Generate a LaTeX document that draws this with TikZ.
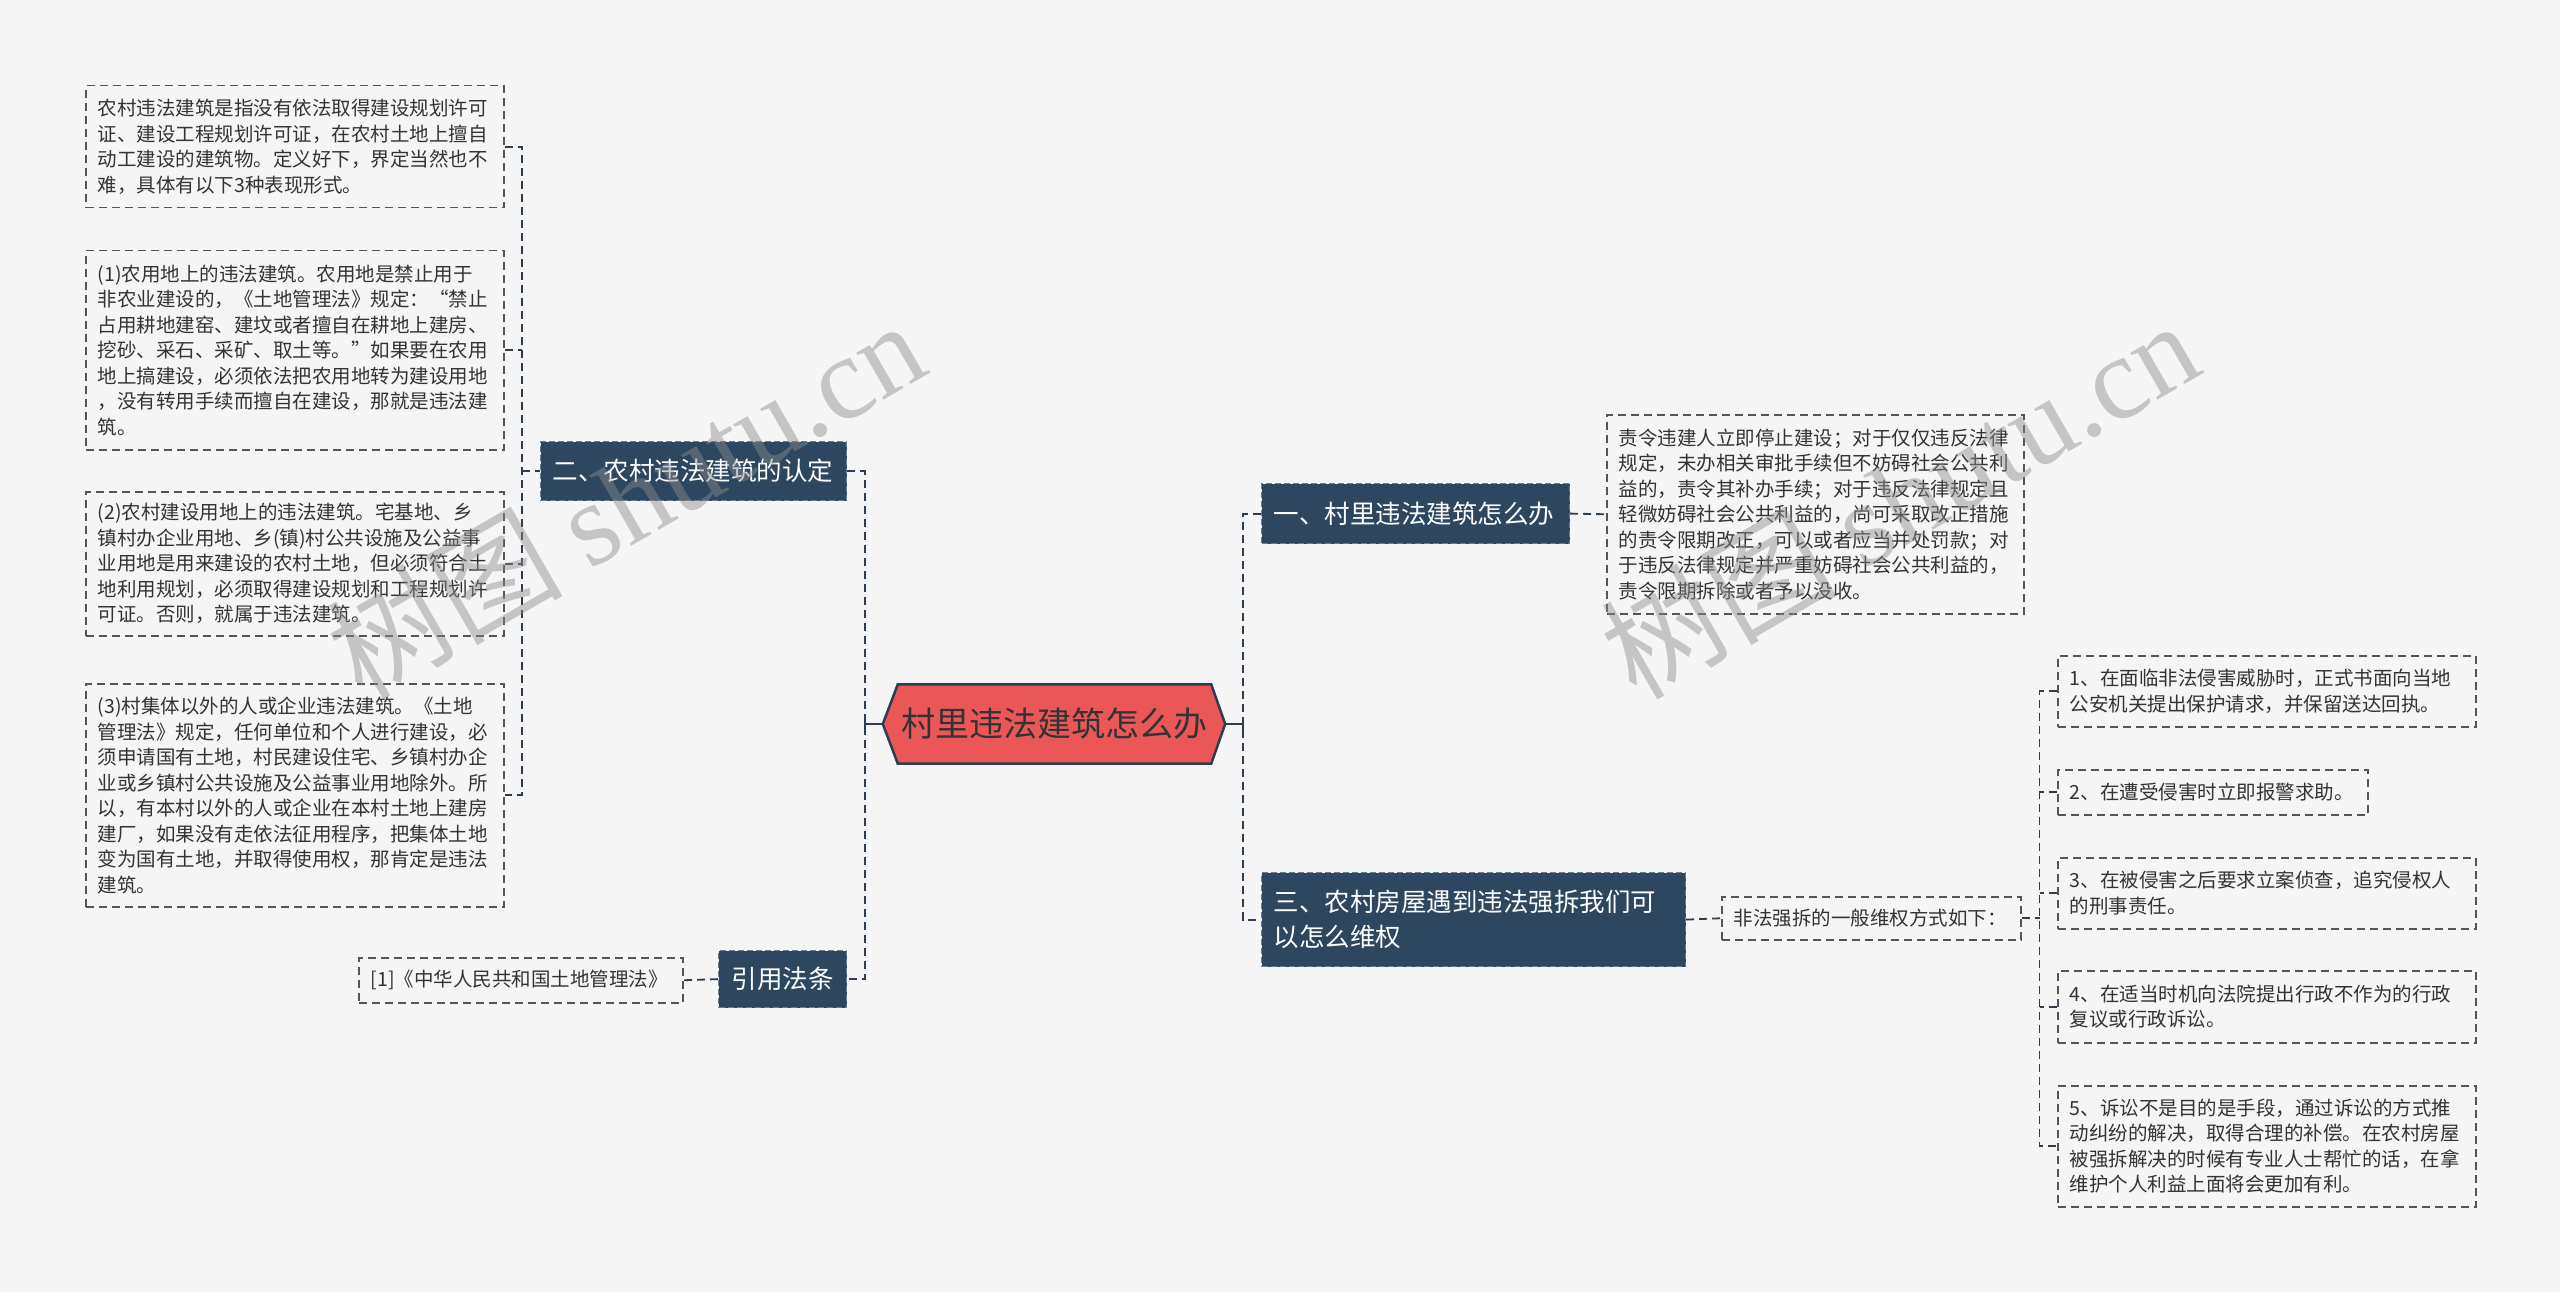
\documentclass[tikz,border=0pt]{standalone}
\usepackage{fontspec}
\setmainfont{Noto Sans CJK SC}
\newfontfamily\wmserif{Liberation Serif}
\usetikzlibrary{backgrounds,calc}

\definecolor{bg}{HTML}{F5F5F5}
\definecolor{dark}{HTML}{2E4760}
\definecolor{darkedge}{HTML}{6C7D8E}
\definecolor{lineclr}{HTML}{2C3E50}
\definecolor{boxline}{HTML}{555555}
\definecolor{txtclr}{HTML}{333333}
\definecolor{hubred}{HTML}{EB5757}

\tikzset{
  txtbox/.style={draw=boxline, line width=1.5pt, dash pattern=on 8pt off 5pt,
    text=txtclr, font=\fontsize{19.5}{25.5}\selectfont, align=left,
    inner xsep=12pt, inner ysep=0pt, anchor=north west},
  topic/.style={fill=dark, draw=darkedge, line width=1.2pt, dash pattern=on 6pt off 3pt,
    text=white, font=\fontsize{25.5}{35}\selectfont, align=left,
    inner xsep=12pt, inner ysep=0pt, anchor=north west},
  conn/.style={draw=lineclr, line width=1.8pt, dash pattern=on 8pt off 5pt},
  solidconn/.style={draw=lineclr, line width=2.2pt},
  wmark/.style={rotate=30, anchor=base west, text=black!45, opacity=0.45,
    font=\fontsize{118}{118}\selectfont, inner sep=0pt}
}

\begin{document}
\begin{tikzpicture}[x=1pt, y=-1pt]
\useasboundingbox (0,0) rectangle (2560,1292);
\begin{scope}[on background layer]
  \fill[bg] (0,0) rectangle (2560,1292);
\end{scope}

% ---------- hub ----------
\node[inner sep=0pt, minimum width=342pt, minimum height=79pt, text=txtclr,
      font=\fontsize{34}{40}\selectfont] (hub) at (1054,724) {村里违法建筑怎么办};
\begin{scope}[on background layer]
  \filldraw[fill=hubred, draw=lineclr, line width=2.5pt, line join=miter]
    (hub.west) -- ([xshift=15pt]hub.north west) -- ([xshift=-14pt]hub.north east)
    -- (hub.east) -- ([xshift=-14pt]hub.south east) -- ([xshift=15pt]hub.south west) -- cycle;
\end{scope}

% ---------- left side ----------
\node[topic, text width=282pt, minimum height=59pt] (n2) at (540,441) {二、农村违法建筑的认定};
\node[topic, align=center, minimum width=128pt, minimum height=57pt] (law) at (718,950) {引用法条};

\node[txtbox, text width=394pt, minimum height=122pt] (l0) at (85,85)
{农村违法建筑是指没有依法取得建设规划许可\\证、建设工程规划许可证，在农村土地上擅自\\动工建设的建筑物。定义好下，界定当然也不\\难，具体有以下3种表现形式。};

\node[txtbox, text width=394pt, minimum height=199pt] (l1) at (85,250)
{(1)农用地上的违法建筑。农用地是禁止用于\\非农业建设的，《土地管理法》规定：“禁止\\占用耕地建窑、建坟或者擅自在耕地上建房、\\挖砂、采石、采矿、取土等。”如果要在农用\\地上搞建设，必须依法把农用地转为建设用地\\，没有转用手续而擅自在建设，那就是违法建\\筑。};

\node[txtbox, text width=394pt, minimum height=144pt] (l2) at (85,491)
{(2)农村建设用地上的违法建筑。宅基地、乡\\镇村办企业用地、乡(镇)村公共设施及公益事\\业用地是用来建设的农村土地，但必须符合土\\地利用规划，必须取得建设规划和工程规划许\\可证。否则，就属于违法建筑。};

\node[txtbox, text width=394pt, minimum height=223pt] (l3) at (85,683)
{(3)村集体以外的人或企业违法建筑。《土地\\管理法》规定，任何单位和个人进行建设，必\\须申请国有土地，村民建设住宅、乡镇村办企\\业或乡镇村公共设施及公益事业用地除外。所\\以，有本村以外的人或企业在本村土地上建房\\建厂，如果没有走依法征用程序，把集体土地\\变为国有土地，并取得使用权，那肯定是违法\\建筑。};

\node[txtbox, text width=300pt, minimum height=45pt] (ref) at (358,957)
{[1]《中华人民共和国土地管理法》};

% ---------- right side ----------
\node[topic, text width=284pt, minimum height=60pt] (n1) at (1261,483) {一、村里违法建筑怎么办};
\node[topic, text width=400pt, minimum height=94pt] (n3) at (1261,872)
{三、农村房屋遇到违法强拆我们可\\以怎么维权};

\node[txtbox, text width=393pt, minimum height=199pt] (r1) at (1606,414)
{责令违建人立即停止建设；对于仅仅违反法律\\规定，未办相关审批手续但不妨碍社会公共利\\益的，责令其补办手续；对于违反法律规定且\\轻微妨碍社会公共利益的，尚可采取改正措施\\的责令限期改正，可以或者应当并处罚款；对\\于违反法律规定并严重妨碍社会公共利益的，\\责令限期拆除或者予以没收。};

\node[txtbox, text width=275pt, minimum height=43pt] (s) at (1721,896)
{非法强拆的一般维权方式如下：};

\node[txtbox, text width=394pt, minimum height=71pt] (c1) at (2057,655)
{1、在面临非法侵害威胁时，正式书面向当地\\公安机关提出保护请求，并保留送达回执。};
\node[txtbox, text width=286pt, minimum height=45pt] (c2) at (2057,769)
{2、在遭受侵害时立即报警求助。};
\node[txtbox, text width=394pt, minimum height=71pt] (c3) at (2057,857)
{3、在被侵害之后要求立案侦查，追究侵权人\\的刑事责任。};
\node[txtbox, text width=394pt, minimum height=72pt] (c4) at (2057,970)
{4、在适当时机向法院提出行政不作为的行政\\复议或行政诉讼。};
\node[txtbox, text width=394pt, minimum height=121pt] (c5) at (2057,1085)
{5、诉讼不是目的是手段，通过诉讼的方式推\\动纠纷的解决，取得合理的补偿。在农村房屋\\被强拆解决的时候有专业人士帮忙的话，在拿\\维护个人利益上面将会更加有利。};

% ---------- connectors ----------
% hub to left topics
\coordinate (hl) at ($(hub.west)+(-18,0)$);
\draw[solidconn] (hub.west) -- (hl);
\draw[solidconn] ($(hl)+(0,-7)$) -- ($(hl)+(0,7)$);
\draw[conn] (n2.east) -- (n2.east -| hl) -- (law.east -| hl) -- (law.east);

% hub to right topics
\coordinate (hr) at ($(hub.east)+(18,0)$);
\draw[solidconn] (hub.east) -- (hr);
\draw[solidconn] ($(hr)+(0,-7)$) -- ($(hr)+(0,7)$);
\draw[conn] (n1.west) -- (n1.west -| hr) -- (n3.west -| hr) -- (n3.west);

% n2 to its children
\coordinate (bl) at ($(n2.west)+(-18,0)$);
\draw[conn] (l0.east) -- (l0.east -| bl) -- (l3.east -| bl) -- (l3.east);
\draw[conn] (l1.east) -- (l1.east -| bl);
\draw[conn] (l2.east) -- (l2.east -| bl);
\draw[conn] (bl) -- (n2.west);

% law to ref
\draw[conn] (law.west) -- (ref.east);

% n1 to r1
\draw[conn] (n1.east) -- (r1.west);

% n3 to s
\draw[conn] (n3.east) -- (s.west);

% s to children
\coordinate (sr) at ($(s.east)+(18,0)$);
\draw[conn] (s.east) -- (sr);
\draw[conn] (c1.west) -- (c1.west -| sr) -- (c5.west -| sr) -- (c5.west);
\draw[conn] (c2.west) -- (c2.west -| sr);
\draw[conn] (c3.west) -- (c3.west -| sr);
\draw[conn] (c4.west) -- (c4.west -| sr);

% ---------- watermarks ----------
\node[wmark] (wm1) at (362,702) {树图 {\wmserif shutu.cn}};
\node[wmark] (wm2) at (1636,702) {树图 {\wmserif shutu.cn}};
\end{tikzpicture}
\end{document}
